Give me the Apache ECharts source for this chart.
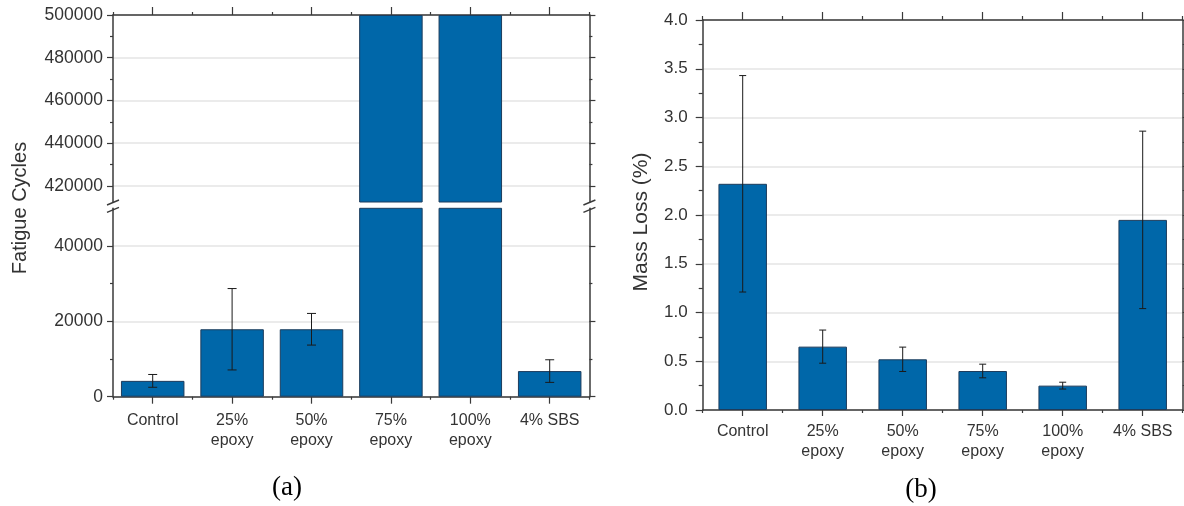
<!DOCTYPE html>
<html>
<head>
<meta charset="utf-8">
<script src="https://cdn.jsdelivr.net/npm/echarts@6/dist/echarts.min.js"></script>
<style>
  html, body { margin: 0; padding: 0; background: #ffffff; }
  #chart { width: 1184px; height: 506px; }
</style>
</head>
<body>
<div id="chart"></div>
<script>
// ---------------- data ----------------
const categories = ['Control', '25%\nepoxy', '50%\nepoxy', '75%\nepoxy', '100%\nepoxy', '4% SBS'];

// (a) Fatigue cycles (75% and 100% epoxy reached the 500000-cycle limit)
const fatigueCycles = [4200, 17900, 17900, 500000, 500000, 6800];
const fatigueErr    = [1700, 10800, 4200, null, null, 3000];

// (b) Mass loss (%)
const massLoss    = [2.32, 0.65, 0.52, 0.40, 0.25, 1.95];
const massLossErr = [1.11, 0.17, 0.125, 0.07, 0.035, 0.91];

// tick labels
const fatigueUpperTicks = [420000, 440000, 460000, 480000, 500000];
const fatigueUpperMinor = [430000, 450000, 470000, 490000];
const fatigueLowerTicks = [0, 20000, 40000];
const fatigueLowerMinor = [10000, 30000];
const upperRange = [412500, 500000];
const lowerRange = [0, 50000];
const massTicksMax = 4.0;
const massTicksStep = 0.5;

// ---------------- layout / style ----------------
const FONT = "'Liberation Sans', Arial, Helvetica, sans-serif";
const AXIS_COLOR = '#3a3a3a';
const TEXT_COLOR = '#333333';
const BAR_COLOR = '#0067a9';
const BAR_BORDER = '#1d3c5c';
const GRID_COLOR = '#e4e4e4';

const A = { left: 113, width: 476.4, upTop: 15, upH: 187, lowTop: 208.3, lowH: 188.4 };
const B = { left: 702.7, width: 480, top: 20, height: 390 };

const chart = echarts.init(document.getElementById('chart'), null, { renderer: 'canvas' });

function axLine(show) {
  return { show: show, onZero: false, lineStyle: { color: AXIS_COLOR, width: 1.5 } };
}
function catAxis(grid, pos, opts) {
  return Object.assign({
    type: 'category', gridIndex: grid, position: pos, data: categories,
    boundaryGap: true,
    axisLine: axLine(true),
    axisTick: { show: false },
    axisLabel: { show: false },
    splitLine: { show: false }
  }, opts);
}
function valAxis(grid, pos, range, opts) {
  return Object.assign({
    type: 'value', gridIndex: grid, position: pos, min: range[0], max: range[1],
    axisLine: axLine(false),
    axisTick: { show: false },
    axisLabel: { show: false },
    splitLine: { show: false }
  }, opts);
}
const tickStyle = { color: AXIS_COLOR, width: 1.2 };

const xAxes = [
  // grid 0 (upper part of a)
  catAxis(0, 'top', { axisTick: { show: true, alignWithLabel: true, length: 8, lineStyle: tickStyle } }),               // 0
  catAxis(0, 'top', { axisLine: axLine(false), axisTick: { show: true, length: 3, lineStyle: tickStyle } }),          // 1
  // grid 1 (lower part of a)
  catAxis(1, 'bottom', {                                                                                                // 2
    axisTick: { show: true, alignWithLabel: true, length: 7, lineStyle: tickStyle },
    axisLabel: { show: true, interval: 0, color: TEXT_COLOR, fontFamily: FONT, fontSize: 16, lineHeight: 20, margin: 14 }
  }),
  catAxis(1, 'bottom', { axisLine: axLine(false), axisTick: { show: true, length: 3, lineStyle: tickStyle } }),       // 3
  // grid 2 (b)
  catAxis(2, 'bottom', {                                                                                                // 4
    axisTick: { show: true, alignWithLabel: true, length: 6, lineStyle: tickStyle },
    axisLabel: { show: true, interval: 0, color: TEXT_COLOR, fontFamily: FONT, fontSize: 16, lineHeight: 20, margin: 12 }
  }),
  catAxis(2, 'bottom', { axisLine: axLine(false), axisTick: { show: true, length: 3, lineStyle: tickStyle } }),       // 5
  catAxis(2, 'top', { axisTick: { show: true, alignWithLabel: true, length: 8, lineStyle: tickStyle } }),             // 6
  catAxis(2, 'top', { axisLine: axLine(false), axisTick: { show: true, length: 4, lineStyle: tickStyle } })           // 7
];

const yLabelA = { show: true, color: TEXT_COLOR, fontFamily: FONT, fontSize: 17.5, margin: 10, formatter: v => String(v) };
const yAxes = [
  // grid 0
  valAxis(0, 'left', upperRange, {                                                                                      // 0
    axisLine: axLine(true),
    axisTick: { show: true, length: 6, customValues: fatigueUpperTicks, lineStyle: tickStyle },
    axisLabel: Object.assign({ customValues: fatigueUpperTicks }, yLabelA),
    splitLine: { show: true, lineStyle: { color: GRID_COLOR, width: 1.5 } }
  }),
  valAxis(0, 'left', upperRange, { axisTick: { show: true, length: 3, customValues: fatigueUpperMinor, lineStyle: tickStyle } }), // 1
  valAxis(0, 'right', upperRange, { axisLine: axLine(true), axisTick: { show: true, length: 6, customValues: fatigueUpperTicks, lineStyle: tickStyle } }), // 2
  valAxis(0, 'right', upperRange, { axisTick: { show: true, length: 3, customValues: fatigueUpperMinor, lineStyle: tickStyle } }), // 3
  // grid 1
  valAxis(1, 'left', lowerRange, {                                                                                      // 4
    axisLine: axLine(true),
    axisTick: { show: true, length: 6, customValues: fatigueLowerTicks, lineStyle: tickStyle },
    axisLabel: Object.assign({ customValues: fatigueLowerTicks }, yLabelA),
    splitLine: { show: true, lineStyle: { color: GRID_COLOR, width: 1.5 } }
  }),
  valAxis(1, 'left', lowerRange, { axisTick: { show: true, length: 3, customValues: fatigueLowerMinor, lineStyle: tickStyle } }), // 5
  valAxis(1, 'right', lowerRange, { axisLine: axLine(true), axisTick: { show: true, length: 6, customValues: fatigueLowerTicks, lineStyle: tickStyle } }), // 6
  valAxis(1, 'right', lowerRange, { axisTick: { show: true, length: 3, customValues: fatigueLowerMinor, lineStyle: tickStyle } }), // 7
  // grid 2
  valAxis(2, 'left', [0, massTicksMax], {                                                                               // 8
    interval: massTicksStep,
    axisLine: axLine(true),
    axisTick: { show: true, length: 7, lineStyle: tickStyle },
    minorTick: { show: true, splitNumber: 2, length: 4, lineStyle: tickStyle },
    axisLabel: { show: true, color: TEXT_COLOR, fontFamily: FONT, fontSize: 17, margin: 15,
                 formatter: v => v.toFixed(1) },
    splitLine: { show: true, lineStyle: { color: GRID_COLOR, width: 1.5 } }
  }),
  valAxis(2, 'right', [0, massTicksMax], {                                                                              // 9
    interval: massTicksStep,
    axisLine: axLine(true),
    axisTick: { show: true, length: 7, lineStyle: tickStyle },
    minorTick: { show: true, splitNumber: 2, length: 4, lineStyle: tickStyle }
  })
];

function errorData(values, errs) {
  const out = [];
  values.forEach((v, i) => {
    if (errs[i] != null) out.push([i, v - errs[i], v + errs[i]]);
  });
  return out;
}
function errorRender(capHalf) {
  return function (params, api) {
    const i = api.value(0);
    const lo = api.coord([i, api.value(1)]);
    const hi = api.coord([i, api.value(2)]);
    const st = { stroke: '#1a1a1a', lineWidth: 1 };
    return {
      type: 'group',
      children: [
        { type: 'line', shape: { x1: hi[0], y1: hi[1], x2: lo[0], y2: lo[1] }, style: st },
        { type: 'line', shape: { x1: hi[0] - capHalf, y1: hi[1], x2: hi[0] + capHalf, y2: hi[1] }, style: st },
        { type: 'line', shape: { x1: lo[0] - capHalf, y1: lo[1], x2: lo[0] + capHalf, y2: lo[1] }, style: st }
      ]
    };
  };
}

const barStyle = { color: BAR_COLOR, borderColor: BAR_BORDER, borderWidth: 1 };
const upperData = fatigueCycles.map(v => (v >= upperRange[0] ? v : '-'));

// break marks (decoration on the axis lines of panel a)
const breakY = [A.upTop + A.upH + 0.5, A.lowTop + 1.5];
const breakMarks = [];
[A.left, A.left + A.width].forEach(x => {
  breakY.forEach(y => {
    breakMarks.push({
      type: 'line', silent: true, z: 100,
      shape: { x1: x - 6, y1: y + 2.5, x2: x + 6, y2: y - 2.5 },
      style: { stroke: AXIS_COLOR, lineWidth: 1.4 }
    });
  });
});

chart.setOption({
  animation: false,
  backgroundColor: '#ffffff',
  grid: [
    { left: A.left, top: A.upTop, width: A.width, height: A.upH, containLabel: false, outerBoundsMode: 'none' },
    { left: A.left, top: A.lowTop, width: A.width, height: A.lowH, containLabel: false, outerBoundsMode: 'none' },
    { left: B.left, top: B.top, width: B.width, height: B.height, containLabel: false, outerBoundsMode: 'none' }
  ],
  xAxis: xAxes,
  yAxis: yAxes,
  series: [
    { type: 'bar', xAxisIndex: 0, yAxisIndex: 0, data: upperData, barWidth: 63.5, itemStyle: barStyle, clip: true },
    { type: 'bar', xAxisIndex: 2, yAxisIndex: 4, data: fatigueCycles, barWidth: 63.5, itemStyle: barStyle, clip: true },
    { type: 'custom', xAxisIndex: 2, yAxisIndex: 4, data: errorData(fatigueCycles, fatigueErr),
      encode: { x: 0, y: [1, 2] }, renderItem: errorRender(4.5), z: 5 },
    { type: 'bar', xAxisIndex: 4, yAxisIndex: 8, data: massLoss, barWidth: 48.5, itemStyle: barStyle },
    { type: 'custom', xAxisIndex: 4, yAxisIndex: 8, data: errorData(massLoss, massLossErr),
      encode: { x: 0, y: [1, 2] }, renderItem: errorRender(3.5), z: 5 }
  ],
  graphic: breakMarks.concat([
    { type: 'text', x: 20, y: 208, rotation: Math.PI / 2,
      style: { text: 'Fatigue Cycles', font: '20px ' + FONT, fill: TEXT_COLOR, align: 'center', verticalAlign: 'middle' } },
    { type: 'text', x: 641, y: 222, rotation: Math.PI / 2,
      style: { text: 'Mass Loss (%)', font: '21px ' + FONT, fill: TEXT_COLOR, align: 'center', verticalAlign: 'middle' } },
    { type: 'text', x: 287, y: 488,
      style: { text: '(a)', font: '27px "Liberation Serif", "Times New Roman", serif', fill: '#000', align: 'center', verticalAlign: 'middle' } },
    { type: 'text', x: 921, y: 490,
      style: { text: '(b)', font: '27px "Liberation Serif", "Times New Roman", serif', fill: '#000', align: 'center', verticalAlign: 'middle' } }
  ])
});
</script>
</body>
</html>
